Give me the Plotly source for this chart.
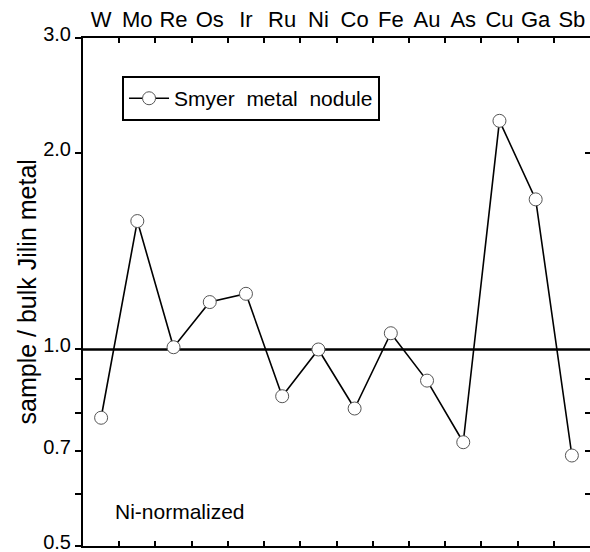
import plotly.graph_objects as go

elements = ["W", "Mo", "Re", "Os", "Ir", "Ru", "Ni", "Co", "Fe", "Au", "As", "Cu", "Ga", "Sb"]
smyer_nodule = [0.786, 1.573, 1.008, 1.182, 1.217, 0.848, 1.0, 0.812, 1.059, 0.896, 0.721, 2.24, 1.698, 0.688]

y_tickvals = [0.5, 0.6, 0.7, 0.8, 0.9, 1.0, 2.0, 3.0]
y_ticktext = ["0.5", "", "0.7", "", "", "1.0", "2.0", "3.0"]
right_tickvals = [0.6, 0.7, 0.8, 0.9, 2.0]
reference_level = 1.0
y_range = [-0.301035, 0.477125]

FONT = "Liberation Sans, Arial, Helvetica, sans-serif"

fig = go.Figure()
fig.add_trace(go.Scatter(
    x=elements, y=smyer_nodule, mode="lines+markers",
    name="Smyer  metal  nodule",
    line=dict(color="black", width=1.6),
    marker=dict(symbol="circle", size=13, color="white",
                line=dict(color="#555555", width=1)),
))
# invisible trace to activate right axis
fig.add_trace(go.Scatter(x=elements, y=smyer_nodule, yaxis="y2", mode="markers",
                         marker=dict(opacity=0), showlegend=False, hoverinfo="skip"))

fig.add_shape(type="line", xref="paper", x0=0, x1=1, yref="y",
              y0=reference_level, y1=reference_level,
              line=dict(color="black", width=2.5), layer="below")

fig.add_annotation(text="Ni-normalized", xref="paper", yref="paper",
                   x=0.059, y=0.067, xanchor="left", yanchor="middle",
                   showarrow=False, font=dict(family=FONT, size=21, color="black"))
fig.add_annotation(text="sample / bulk Jilin metal", xref="paper", yref="paper",
                   x=-0.1095, y=0.5, xanchor="center", yanchor="middle", textangle=-90,
                   showarrow=False, font=dict(family=FONT, size=25, color="black"))

fig.update_layout(
    width=590, height=552,
    margin=dict(l=83, r=0, t=38, b=6, autoexpand=False),
    paper_bgcolor="white", plot_bgcolor="white",
    font=dict(family=FONT, color="black"),
    showlegend=True,
    legend=dict(x=0.077, y=0.925, xanchor="left", yanchor="top",
                bgcolor="white", bordercolor="black", borderwidth=2,
                itemwidth=40,
                font=dict(family=FONT, size=21, color="black")),
    xaxis=dict(type="category", side="top", tickson="boundaries", tickangle=0,
               ticks="inside", ticklen=5, tickwidth=2, tickcolor="black",
               showline=True, linewidth=2, linecolor="black", mirror="ticks",
               showgrid=False, zeroline=False, range=[-0.5, 13.5], automargin=False,
               ticklabeloverflow="allow",
               tickfont=dict(family=FONT, size=22, color="black")),
    yaxis=dict(type="log", range=y_range, automargin=False,
               tickmode="array", tickvals=y_tickvals, ticktext=y_ticktext,
               ticks="outside", ticklen=6, tickwidth=2, tickcolor="black",
               showline=True, linewidth=2, linecolor="black",
               showgrid=False, zeroline=False, ticklabeloverflow="allow",
               ticklabelshift=-4,
               tickfont=dict(family=FONT, size=20, color="black")),
    yaxis2=dict(type="log", range=y_range, overlaying="y", side="right",
                tickmode="array", tickvals=right_tickvals, automargin=False,
                ticks="inside", ticklen=5, tickwidth=2, tickcolor="black",
                showticklabels=False, showline=False, showgrid=False, zeroline=False),
)

fig.write_html(
    "out.html",
    config={"displayModeBar": False},
    post_script="document.body.style.margin='0';document.body.style.overflow='hidden';",
)
